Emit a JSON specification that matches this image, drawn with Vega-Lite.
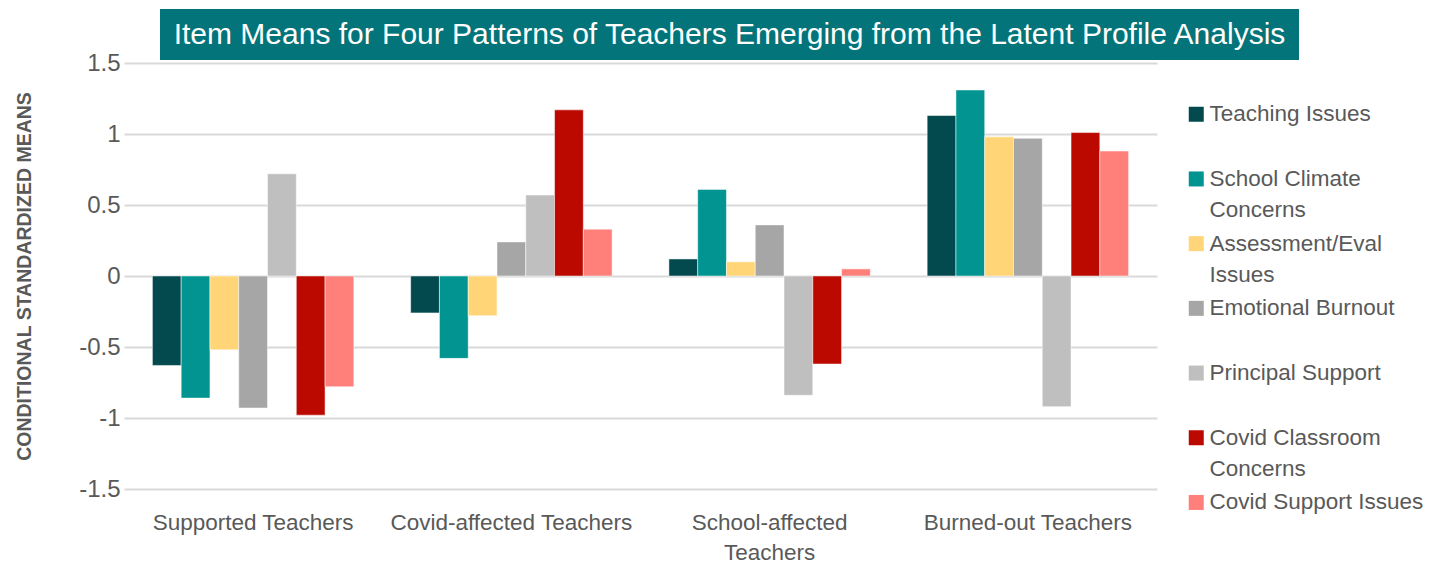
{
  "$schema": "https://vega.github.io/schema/vega-lite/v6.json",
  "padding": {"left": 14, "top": 9, "right": 5, "bottom": 0},
  "background": "white",
  "spacing": -9,
  "center": false,
  "resolve": {"legend": {"color": "independent"}},
  "config": {"view": {"stroke": null}, "style": {"guide-label": {"lineHeight": 31}}},
  "vconcat": [
    {
      "spacing": 0,
      "hconcat": [
        {
          "width": 36,
          "height": 51,
          "data": {"values": [{"t": ""}]},
          "mark": {"type": "text", "opacity": 0},
          "encoding": {"text": {"field": "t", "type": "nominal"}}
        },
        {
          "width": 1139,
          "height": 51,
          "view": {"fill": "#037479", "stroke": null},
          "data": {"values": [{"t": "Item Means for Four Patterns of Teachers Emerging from the Latent Profile Analysis"}]},
          "mark": {"type": "text", "color": "white", "font": "Liberation Sans", "fontSize": 30},
          "encoding": {"text": {"field": "t", "type": "nominal"}}
        }
      ]
    },
    {
      "width": 1033,
      "height": 426,
      "data": {"values": [
        {"group": "Supported Teachers", "item": "Teaching Issues", "value": -0.63},
        {"group": "Supported Teachers", "item": "School Climate Concerns", "value": -0.86},
        {"group": "Supported Teachers", "item": "Assessment/Eval Issues", "value": -0.52},
        {"group": "Supported Teachers", "item": "Emotional Burnout", "value": -0.93},
        {"group": "Supported Teachers", "item": "Principal Support", "value": 0.72},
        {"group": "Supported Teachers", "item": "Covid Classroom Concerns", "value": -0.98},
        {"group": "Supported Teachers", "item": "Covid Support Issues", "value": -0.78},
        {"group": "Covid-affected Teachers", "item": "Teaching Issues", "value": -0.26},
        {"group": "Covid-affected Teachers", "item": "School Climate Concerns", "value": -0.58},
        {"group": "Covid-affected Teachers", "item": "Assessment/Eval Issues", "value": -0.28},
        {"group": "Covid-affected Teachers", "item": "Emotional Burnout", "value": 0.24},
        {"group": "Covid-affected Teachers", "item": "Principal Support", "value": 0.57},
        {"group": "Covid-affected Teachers", "item": "Covid Classroom Concerns", "value": 1.17},
        {"group": "Covid-affected Teachers", "item": "Covid Support Issues", "value": 0.33},
        {"group": "School-affected Teachers", "item": "Teaching Issues", "value": 0.12},
        {"group": "School-affected Teachers", "item": "School Climate Concerns", "value": 0.61},
        {"group": "School-affected Teachers", "item": "Assessment/Eval Issues", "value": 0.1},
        {"group": "School-affected Teachers", "item": "Emotional Burnout", "value": 0.36},
        {"group": "School-affected Teachers", "item": "Principal Support", "value": -0.84},
        {"group": "School-affected Teachers", "item": "Covid Classroom Concerns", "value": -0.62},
        {"group": "School-affected Teachers", "item": "Covid Support Issues", "value": 0.05},
        {"group": "Burned-out Teachers", "item": "Teaching Issues", "value": 1.13},
        {"group": "Burned-out Teachers", "item": "School Climate Concerns", "value": 1.31},
        {"group": "Burned-out Teachers", "item": "Assessment/Eval Issues", "value": 0.98},
        {"group": "Burned-out Teachers", "item": "Emotional Burnout", "value": 0.97},
        {"group": "Burned-out Teachers", "item": "Principal Support", "value": -0.92},
        {"group": "Burned-out Teachers", "item": "Covid Classroom Concerns", "value": 1.01},
        {"group": "Burned-out Teachers", "item": "Covid Support Issues", "value": 0.88}
      ]},
      "mark": {"type": "bar", "stroke": "white", "strokeWidth": 0.5},
      "encoding": {
        "x": {
          "field": "group", "type": "nominal",
          "scale": {"domain": ["Supported Teachers", "Covid-affected Teachers", "School-affected Teachers", "Burned-out Teachers"], "paddingInner": 0.22, "paddingOuter": 0.11},
          "axis": {
            "title": null, "domain": false, "ticks": false, "labelAngle": 0, "labelPadding": 22,
            "labelFont": "Liberation Sans", "labelFontSize": 22.5, "labelColor": "#595959",
            "labelLineHeight": 30, "labelLimit": 400,
            "labelExpr": "datum.label == 'School-affected Teachers' ? ['School-affected', 'Teachers'] : datum.label"
          }
        },
        "xOffset": {
          "field": "item", "type": "nominal",
          "scale": {"domain": ["Teaching Issues", "School Climate Concerns", "Assessment/Eval Issues", "Emotional Burnout", "Principal Support", "Covid Classroom Concerns", "Covid Support Issues"], "paddingInner": 0, "paddingOuter": 0}
        },
        "y": {
          "field": "value", "type": "quantitative",
          "scale": {"domain": [-1.5, 1.5], "nice": false, "zero": false},
          "axis": {
            "title": "CONDITIONAL STANDARDIZED MEANS", "values": [-1.5, -1, -0.5, 0, 0.5, 1, 1.5],
            "grid": true, "gridColor": "#d9d9d9", "gridWidth": 2, "domain": false, "ticks": false,
            "labelPadding": 4, "labelFont": "Liberation Sans", "labelFontSize": 24, "labelColor": "#595959",
            "labelExpr": "datum.value + ''",
            "titleFont": "Liberation Sans", "titleFontSize": 19.5, "titleFontWeight": "bold", "titleColor": "#595959", "titlePadding": 44
          }
        },
        "color": {
          "field": "item", "type": "nominal",
          "scale": {
            "domain": ["Teaching Issues", "School Climate Concerns", "Assessment/Eval Issues", "Emotional Burnout", "Principal Support", "Covid Classroom Concerns", "Covid Support Issues"],
            "range": ["#024a4d", "#019491", "#ffd578", "#a6a6a6", "#bfbfbf", "#bb0900", "#ff7f7b"]
          },
          "legend": {
            "title": null, "orient": "none", "legendX": 1061, "legendY": 40,
            "symbolType": "square", "symbolSize": 225, "symbolStrokeWidth": 0,
            "labelFont": "Liberation Sans", "labelFontSize": 22.5, "labelColor": "#595959",
            "labelOffset": 2, "rowPadding": 10.7, "labelLimit": 300, "padding": 0,
            "labelExpr": "datum.label == 'School Climate Concerns' ? ['School Climate', 'Concerns'] : datum.label == 'Assessment/Eval Issues' ? ['Assessment/Eval', 'Issues'] : datum.label == 'Covid Classroom Concerns' ? ['Covid Classroom', 'Concerns'] : [datum.label, '']"
          }
        }
      }
    }
  ]
}
